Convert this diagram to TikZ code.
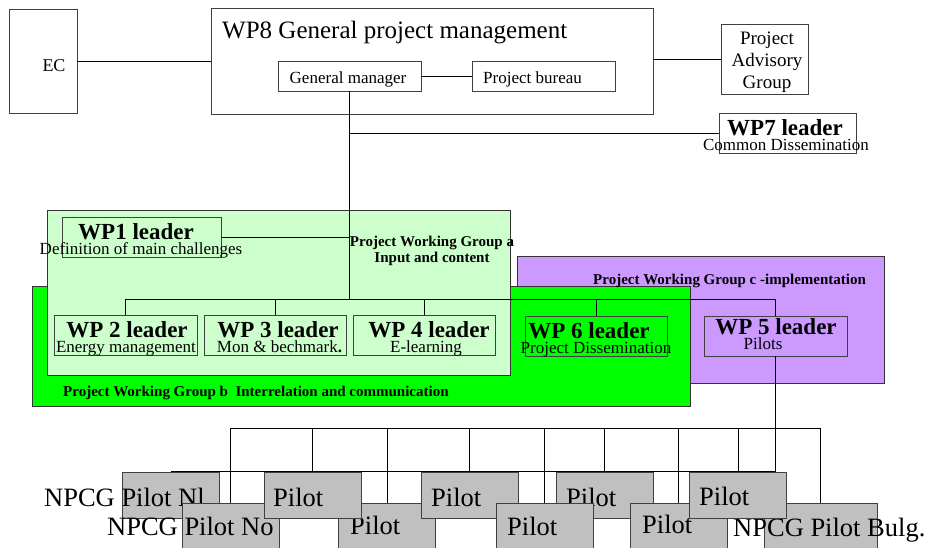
\documentclass[tikz,border=0pt]{standalone}
\usepackage{fontspec}
\setmainfont{Liberation Serif}
\usetikzlibrary{backgrounds}

\definecolor{groupa}{HTML}{CCFFCC}
\definecolor{groupb}{HTML}{00FF00}
\definecolor{groupc}{HTML}{CC99FF}
\definecolor{pilotgray}{HTML}{C0C0C0}

\tikzset{
	box/.style={draw=black!75, line width=0.9pt, inner sep=0pt},
	wpbox/.style={box, minimum height=40},
	group/.style={draw=black!80, line width=0.9pt, inner sep=0pt},
	pilot/.style={box, fill=pilotgray, minimum width=97, minimum height=46},
	plain/.style={inner sep=0pt, anchor=base west},
	mgrtext/.style={plain, font=\fontsize{17}{20}\selectfont},
	grouplabel/.style={plain, font=\fontsize{15}{16}\selectfont\bfseries},
	wptitle/.style={inner sep=0pt, anchor=base, font=\fontsize{23}{26}\selectfont\bfseries},
	wpsub/.style={inner sep=0pt, anchor=base, font=\fontsize{17}{20}\selectfont},
	pilottext/.style={plain, font=\fontsize{26.5}{30}\selectfont},
	link/.style={draw=black, line width=1pt}
}

\begin{document}
\begin{tikzpicture}[x=1pt,y=-1pt]

	\useasboundingbox (0,0) rectangle (929,547);
	\clip (0,0) rectangle (929,547);

	% management level
	\node[box, minimum width=68, minimum height=104] (ec) at (43,61) {};
	\node[plain, font=\fontsize{18}{20}\selectfont] (ec-t) at (42.3,71.7) {EC};
	\node[box, minimum width=442, minimum height=106] (wp8) at (432,61) {};
	\node[plain, font=\fontsize{25}{28}\selectfont] (wp8-t) at (222,38.3) {WP8 General project management};
	\node[box, minimum width=143, minimum height=30] (gm) at (349.5,76) {};
	\node[mgrtext, anchor=base] (gm-t) at (348,83.5) {General manager};
	\node[box, minimum width=143, minimum height=30] (pb) at (543.5,76) {};
	\node[mgrtext] (pb-t) at (483,83.5) {Project bureau};
	\node[box, minimum width=87, minimum height=70] (pag) at (764.5,59) {};
	\node[inner sep=0pt, align=center, font=\fontsize{19}{22}\selectfont] (pag-t) at (767,62.7) {Project\\Advisory\\Group};

	% working groups
	\node[group, fill=groupc, minimum width=367, minimum height=127] (pwgc) at (700.5,319.5) {};
	\node[group, fill=groupb, minimum width=658, minimum height=120] (pwgb) at (361,346) {};
	\node[group, fill=groupa, minimum width=463, minimum height=165] (pwga) at (278.5,292.5) {};
	\node[grouplabel, anchor=center, align=center] (pwga-t) at (432,251) {Project Working Group a\\Input and content};
	\node[grouplabel] (pwgb-t) at (63,396) {Project Working Group b\ \ Interrelation and communication};
	\node[grouplabel] (pwgc-t) at (593,284) {Project Working Group c -implementation};

	\foreach \n/\x/\y/\w/\tx/\sx/\dy/\t/\s in {
		wp7/787.5/133/137/785/786/0/{WP7 leader}/{Common Dissemination},
		wp1/141.5/237.5/159/136/141/0/{WP1 leader}/{Definition of main challenges},
		wp2/125.5/335/143/127/126/0/{WP 2 leader}/{Energy management},
		wp3/275/335/142/278/279.5/0/{WP 3 leader}/{Mon \& bechmark\textbf{.}},
		wp4/424/335/142/429/426/0/{WP 4 leader}/{E-learning},
		wp6/596/336/142/589/596/0/{WP 6 leader}/{Project Dissemination},
		wp5/775.5/336/143/776/763/-4/{WP 5 leader}/{Pilots}}{
		\node[wpbox, minimum width=\w] (\n) at (\x,\y) {};
		\node[wptitle] (\n-t) at (\tx,\y+2+\dy) {\t};
		\node[wpsub] (\n-s) at (\sx,\y+17+\dy) {\s};
	}

	\coordinate (bus) at (gm.south |- 0,299);
	\coordinate (pbus) at (wp5.south |- 0,428);

	\draw[link] (ec) -- (wp8);
	\draw[link] (gm) -- (pb);
	\draw[link] (pag.west) -- (pag.west -| wp8.east);
	\draw[link] (gm) -- (bus);
	\draw[link] (wp7.west) -- (wp7.west -| gm.south);
	\draw[link] (wp1.east) -- (wp1.east -| gm.south);
	\foreach \w in {wp2,wp3,wp4,wp6,wp5} \draw[link] (bus) -| (\w.north);
	\draw[link] (wp5.south) -- (pbus);

	% pilots
	\foreach \n/\x/\y/\w/\tx/\ty/\t in {
		pnl/170.5/495/97/44/506/{NPCG Pilot Nl},
		pno/230.5/526/97/107/535/{NPCG Pilot No},
		p7/387/526/97/350/534/{Pilot},
		p2/312.5/495/97/273/506/{Pilot},
		p3/469.5/495/97/431/506/{Pilot},
		p4/604.5/495/97/566/506/{Pilot},
		p8/544.5/526/97/507/535/{Pilot},
		p9/678.5/526/97/642/533/{Pilot},
		pbulg/820.5/526/113/733/536/{NPCG Pilot Bulg.},
		p5/738/495/97/699/505/{Pilot}}{
		\node[pilot, minimum width=\w] (\n) at (\x,\y) {};
		\node[pilottext] (\n-t) at (\tx,\ty) {\t};
	}

	\begin{scope}[on background layer]
		\draw[link] (pbus) |- (pnl.north);
		\foreach \p in {pno,p2,p7,p3,p8,p4,p9,p5,pbulg} \draw[link] (pbus) -| (\p.north);
	\end{scope}
\end{tikzpicture}
\end{document}
